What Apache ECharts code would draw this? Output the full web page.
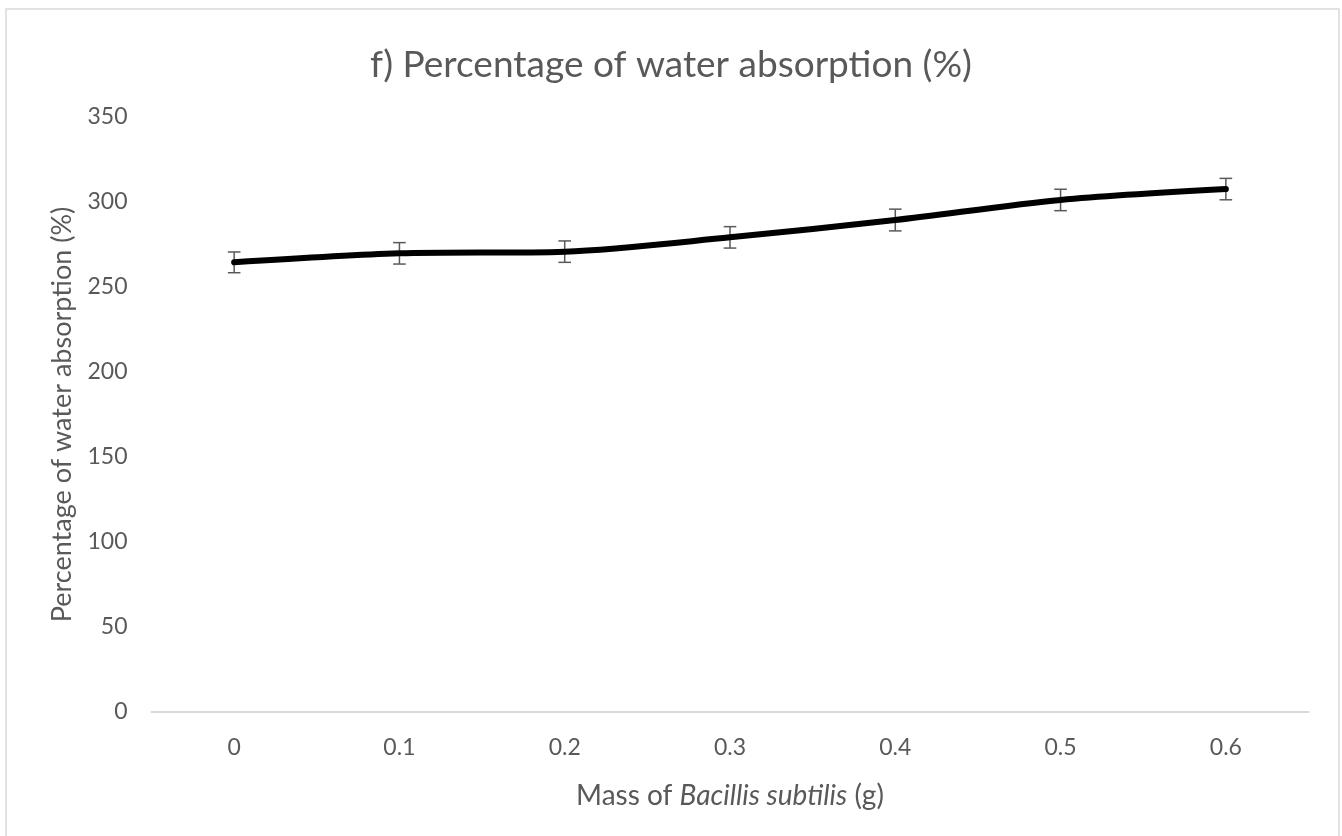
<!DOCTYPE html>
<html>
<head>
<meta charset="utf-8">
<script src="https://cdn.jsdelivr.net/npm/echarts@6/dist/echarts.min.js"></script>
<style>
html,body{margin:0;padding:0;background:#fff;}
#chart{width:1342px;height:836px;}
</style>
</head>
<body>
<div id="chart"></div>
<script>
const categories = ['0', '0.1', '0.2', '0.3', '0.4', '0.5', '0.6'];
const absorption = [264.5, 269.8, 270.8, 279.2, 289.4, 301.2, 307.6];
const errors = [6.1, 6.3, 6.3, 6.3, 6.4, 6.3, 6.3];
const yTicks = [0, 50, 100, 150, 200, 250, 300, 350];

const FONT = 'Lato';
const GREY = '#595959';

const chart = echarts.init(document.getElementById('chart'));
chart.setOption({
  animation: false,
  backgroundColor: '#fff',
  textStyle: { fontFamily: FONT },
  title: {
    text: 'f) Percentage of water absorption (%)',
    left: 'center',
    top: 42,
    textStyle: { fontFamily: FONT, fontSize: 37, fontWeight: 'normal', color: GREY }
  },
  graphic: [{
    type: 'rect',
    shape: { x: 6, y: 9, width: 1333, height: 840 },
    style: { fill: 'none', stroke: '#d9d9d9', lineWidth: 1.5 },
    silent: true
  }],
  grid: { left: 151.5, right: 33.5, top: 117, bottom: 124 },
  xAxis: {
    type: 'category',
    data: categories,
    boundaryGap: true,
    axisLine: { lineStyle: { color: '#d9d9d9', width: 2 } },
    axisTick: { show: false },
    axisLabel: { color: GREY, fontSize: 23, fontFamily: FONT, margin: 24 },
    name: '{n|Mass of }{i|Bacillis subtilis}{n| (g)}',
    nameLocation: 'middle',
    nameGap: 70,
    nameTextStyle: {
      rich: {
        n: { fontFamily: FONT, fontSize: 28, color: GREY },
        i: { fontFamily: FONT, fontSize: 28, color: GREY, fontStyle: 'italic' }
      }
    }
  },
  yAxis: {
    type: 'value',
    min: yTicks[0],
    max: yTicks[yTicks.length - 1],
    interval: 50,
    splitLine: { show: false },
    axisLine: { show: false },
    axisTick: { show: false },
    axisLabel: { color: GREY, fontSize: 23, fontFamily: FONT, margin: 24 },
    name: 'Percentage of water absorption (%)',
    nameLocation: 'middle',
    nameGap: 76,
    nameTextStyle: { fontFamily: FONT, fontSize: 27, color: GREY }
  },
  series: [
    {
      type: 'custom',
      z: 1,
      renderItem: function (params, api) {
        const x = api.value(0);
        const v = api.value(1);
        const e = api.value(2);
        const top = api.coord([x, v + e]);
        const bot = api.coord([x, v - e]);
        const hw = 6.3;
        const style = { stroke: GREY, lineWidth: 1.5 };
        return {
          type: 'group',
          children: [
            { type: 'line', shape: { x1: top[0], y1: top[1], x2: bot[0], y2: bot[1] }, style: style },
            { type: 'line', shape: { x1: top[0] - hw, y1: top[1], x2: top[0] + hw, y2: top[1] }, style: style },
            { type: 'line', shape: { x1: bot[0] - hw, y1: bot[1], x2: bot[0] + hw, y2: bot[1] }, style: style }
          ]
        };
      },
      data: categories.map((c, i) => [i, absorption[i], errors[i]])
    },
    {
      type: 'line',
      z: 2,
      data: absorption,
      smooth: 0.3,
      symbol: 'none',
      lineStyle: { color: '#000', width: 6, cap: 'round', join: 'round' }
    }
  ]
});
</script>
</body>
</html>
